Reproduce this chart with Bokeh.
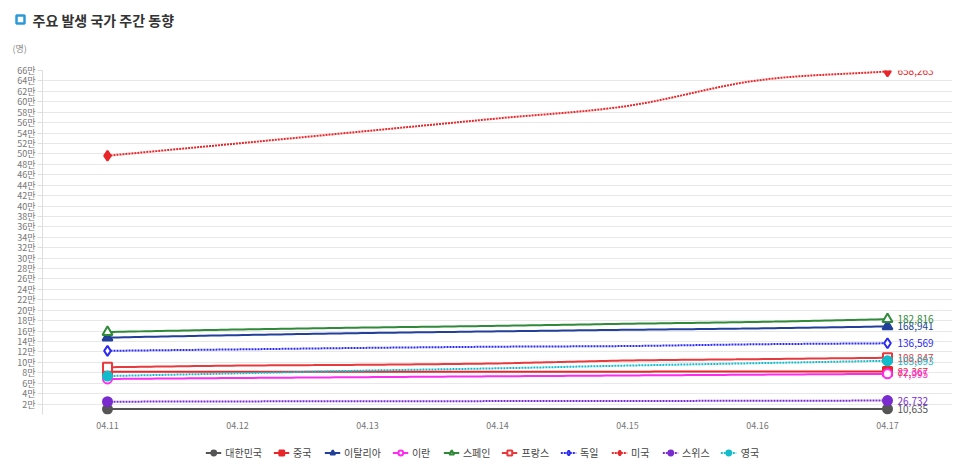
import numpy as np
from bokeh.plotting import figure
from bokeh.layouts import column
from bokeh.models import (Range1d, FixedTicker, CustomJSTickFormatter,
                          Legend, LegendItem, ColumnDataSource)
from bokeh.core.properties import value
from bokeh.embed import file_html
from bokeh.resources import INLINE

FONT = "Noto Sans CJK KR"

days = ["04.11", "04.12", "04.13", "04.14", "04.15", "04.16", "04.17"]

korea = [10480, 10512, 10537, 10564, 10591, 10613, 10635]
china = [81907, 81953, 82052, 82160, 82249, 82295, 82367]
italy = [147577, 152271, 156363, 159516, 162488, 165155, 168941]
iran = [68192, 70029, 71686, 73303, 74877, 76389, 77995]
spain = [158273, 163027, 166831, 170099, 174060, 177633, 182816]
france = [90676, 93790, 95403, 98076, 103573, 106206, 108847]
germany = [122171, 124908, 127854, 130072, 131359, 134753, 136569]
usa = [496535, 520000, 544000, 568000, 592000, 641000, 658263]
swiss = [24551, 25107, 25415, 25688, 25936, 26336, 26732]
uk = [73758, 78991, 84279, 88621, 93873, 98476, 103093]

names = ["대한민국", "중국", "이탈리아", "이란", "스페인", "프랑스", "독일", "미국", "스위스", "영국"]
values_list = [korea, china, italy, iran, spain, france, germany, usa, swiss, uk]
colors = ["#555555", "#e8262a", "#22409a", "#ff2cf0", "#2f8a3a", "#e8393c",
          "#2a2af0", "#e8262a", "#7a2bd0", "#12bccb"]
markers = ["circle", "square", "triangle", "circle", "triangle", "square",
           "diamond", "diamond", "circle", "circle"]
filled = [True, True, True, False, False, False, False, True, True, True]
dashed = [False, False, False, False, False, False, True, True, True, True]

y_ticks = list(range(20000, 660001, 20000))

title_text = "주요 발생 국가 주간 동향"
unit_text = "(명)"


def spline(xs, ys, n=24):
    xs = np.asarray(xs, float)
    ys = np.asarray(ys, float)
    m = len(xs)
    t = np.zeros(m)
    for i in range(m):
        if i == 0:
            t[i] = (ys[1] - ys[0]) / (xs[1] - xs[0])
        elif i == m - 1:
            t[i] = (ys[-1] - ys[-2]) / (xs[-1] - xs[-2])
        else:
            t[i] = (ys[i + 1] - ys[i - 1]) / (xs[i + 1] - xs[i - 1])
    ox, oy = [], []
    for i in range(m - 1):
        h = xs[i + 1] - xs[i]
        s = np.linspace(0, 1, n, endpoint=(i == m - 2))
        h00 = 2 * s**3 - 3 * s**2 + 1
        h10 = s**3 - 2 * s**2 + s
        h01 = -2 * s**3 + 3 * s**2
        h11 = s**3 - s**2
        ox.extend(xs[i] + s * h)
        oy.extend(h00 * ys[i] + h10 * h * t[i] + h01 * ys[i + 1] + h11 * h * t[i + 1])
    return ox, oy


def bare(width, height, yr):
    f = figure(width=width, height=height, output_backend="svg", toolbar_location=None,
               x_range=Range1d(0, width), y_range=yr,
               x_axis_type=None, y_axis_type=None, min_border=0, frame_align=False)
    f.outline_line_color = None
    f.grid.grid_line_color = None
    f.background_fill_color = "white"
    f.border_fill_color = "white"
    return f


W = 966
H_HEAD = 62
H_MAIN = 378
H_FOOT = 24

# ---- header (title, icon, unit) ----
head = bare(W, H_HEAD, Range1d(H_HEAD, 0))
head.scatter(x=[20], y=[19], marker="square", size=8, fill_color="white",
             line_color="#2a9ad6", line_width=2.5)
head.text(x=[32], y=[19], text=[title_text], text_font=value(FONT),
          text_font_size="14px", text_font_style="bold", text_color="#333333",
          text_baseline="middle", text_align="left")
head.text(x=[12], y=[48], text=[unit_text], text_font=value(FONT),
          text_font_size="9px", text_color="#888888",
          text_baseline="middle", text_align="left")

# ---- main chart ----
p = figure(width=W, height=H_MAIN, output_backend="svg", toolbar_location=None,
           x_range=Range1d(-0.5, 6.5), y_range=Range1d(0, 660000),
           min_border_left=42, min_border_right=14, min_border_top=8,
           min_border_bottom=26, frame_align=False)
p.outline_line_color = None
p.background_fill_color = "white"
p.border_fill_color = "white"

# ---- footer (legend) ----
foot = bare(W, H_FOOT, Range1d(0, H_FOOT))
proxy = ColumnDataSource(dict(x=[-100], y=[-100]))  # off-canvas proxy for legend glyphs

xi = list(range(len(days)))
items = []
for name, vals, col, mk, fl, ds in zip(names, values_list, colors, markers, filled, dashed):
    sx, sy = spline(xi, vals)
    dash = "2 1" if ds else "solid"
    size = 10 if mk in ("triangle", "diamond") else 9
    fill = col if fl else "white"
    p.line(sx, sy, line_color=col, line_width=2, line_dash=dash)
    ends = ColumnDataSource(dict(x=[xi[0], xi[-1]], y=[vals[0], vals[-1]]))
    p.scatter("x", "y", source=ends, marker=mk, size=size,
              line_color=col, line_width=2, fill_color=fill)
    p.text(x=[xi[-1]], y=[vals[-1]], text=[f"{vals[-1]:,}"], x_offset=10,
           text_baseline="middle", text_align="left", text_color=col,
           text_font=value(FONT), text_font_size="10px")
    lg_l = foot.line("x", "y", source=proxy, line_color=col, line_width=2, line_dash=dash)
    lg_s = foot.scatter("x", "y", source=proxy, marker=mk, size=8, line_color=col,
                        line_width=2, fill_color=fill)
    items.append(LegendItem(label=name, renderers=[lg_l, lg_s]))

p.xaxis.ticker = FixedTicker(ticks=xi)
p.xaxis.major_label_overrides = {i: d for i, d in enumerate(days)}
p.xaxis.axis_line_color = None
p.xaxis.major_tick_line_color = None
p.xaxis.minor_tick_line_color = None
p.xaxis.major_label_text_font = FONT
p.xaxis.major_label_text_font_size = "9px"
p.xaxis.major_label_text_color = "#777777"
p.xaxis.major_label_standoff = 1

p.yaxis.ticker = FixedTicker(ticks=y_ticks)
p.yaxis.formatter = CustomJSTickFormatter(code="return (tick/10000) + '만';")
p.yaxis.axis_line_color = "#dddddd"
p.yaxis.major_tick_line_color = "#dddddd"
p.yaxis.major_tick_in = 0
p.yaxis.major_tick_out = 5
p.yaxis.minor_tick_line_color = None
p.yaxis.major_label_text_font = FONT
p.yaxis.major_label_text_font_size = "9px"
p.yaxis.major_label_text_color = "#777777"
p.yaxis.major_label_standoff = 2

p.xgrid.grid_line_color = None
p.ygrid.ticker = FixedTicker(ticks=y_ticks)
p.ygrid.grid_line_color = "#e8e8e8"
p.ygrid.grid_line_width = 1

legend = Legend(items=items, orientation="horizontal", location="center",
                label_text_font=FONT, label_text_font_size="10px",
                label_text_color="#444444", glyph_width=16, glyph_height=12,
                label_standoff=4, spacing=11, border_line_color=None,
                background_fill_alpha=0, padding=0, margin=0)
foot.add_layout(legend, "center")

layout = column(head, p, foot, spacing=0)
open("out.html", "w").write(file_html(layout, INLINE))
